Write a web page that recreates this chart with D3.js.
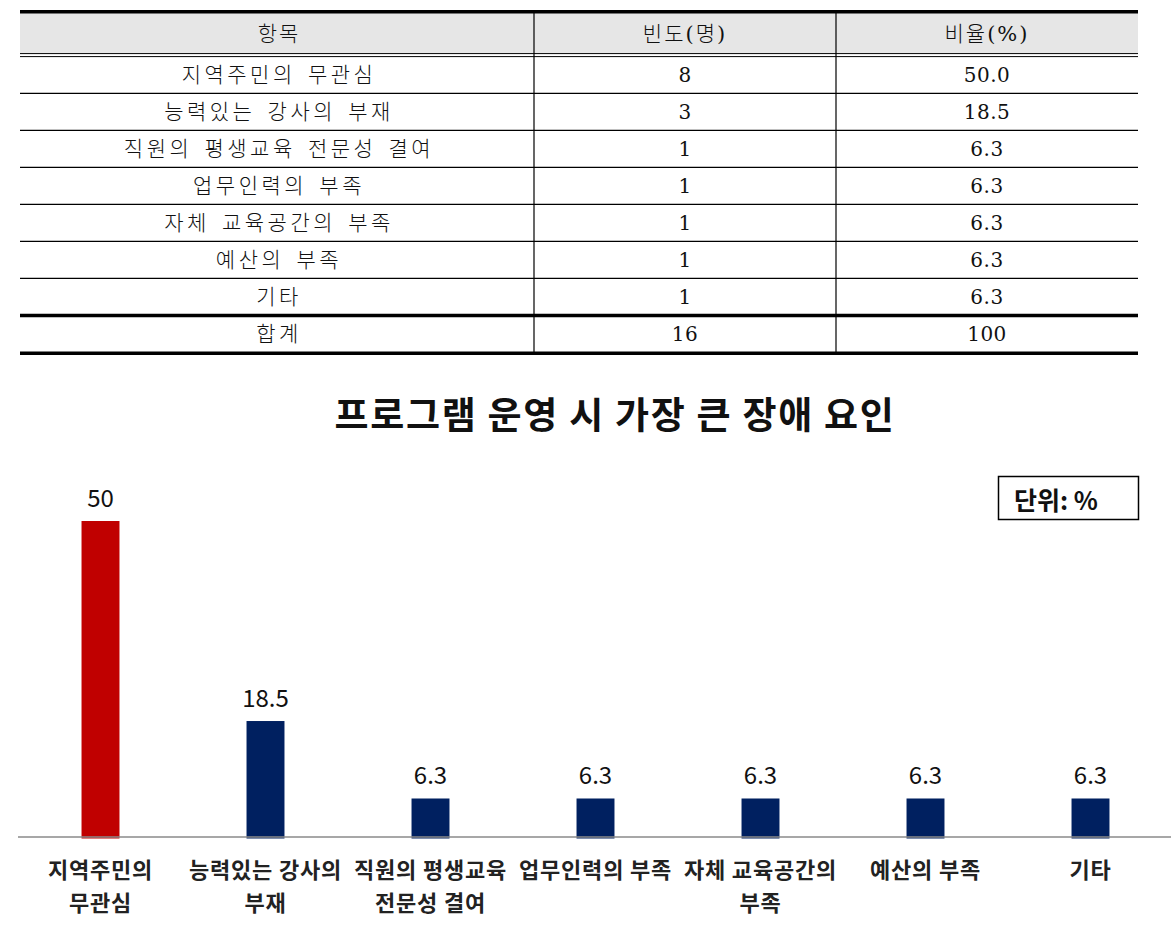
<!DOCTYPE html>
<html><head><meta charset="utf-8">
<script src="https://cdn.jsdelivr.net/npm/d3@7"></script>
<style>
html,body{margin:0;padding:0;background:#fff;}
svg{display:block;}
</style></head>
<body>
<script>
// ---- Table data ----
const tableHeaders = ["항목", "빈도(명)", "비율(%)"];
const tableItems = ["지역주민의 무관심", "능력있는 강사의 부재", "직원의 평생교육 전문성 결여", "업무인력의 부족", "자체 교육공간의 부족", "예산의 부족", "기타"];
const tableCounts = [8, 3, 1, 1, 1, 1, 1];
const tablePercents = ["50.0", "18.5", "6.3", "6.3", "6.3", "6.3", "6.3"];
const totalRow = ["합계", "16", "100"];

// ---- Chart data ----
const chartTitle = "프로그램 운영 시 가장 큰 장애 요인";
const unitLabel = "단위: %";
const categories = ["지역주민의 무관심", "능력있는 강사의 부재", "직원의 평생교육 전문성 결여", "업무인력의 부족", "자체 교육공간의 부족", "예산의 부족", "기타"];
const categoryLines = [["지역주민의", "무관심"], ["능력있는 강사의", "부재"], ["직원의 평생교육", "전문성 결여"], ["업무인력의 부족"], ["자체 교육공간의", "부족"], ["예산의 부족"], ["기타"]];
const values = [50, 18.5, 6.3, 6.3, 6.3, 6.3, 6.3];
const barColors = ["#c00000", "#002060", "#002060", "#002060", "#002060", "#002060", "#002060"];

const W = 1171, H = 950;
const svg = d3.select("body").append("svg").attr("width", W).attr("height", H);

// ===== TABLE =====
const tFont = "'DejaVu Serif', 'Noto Sans CJK KR', serif";
const colEdges = [20, 534, 836, 1138];
const headerTop = 13, headerBottom = 53.5, rowH = 37;
const rows = tableItems.map((d, i) => [d, String(tableCounts[i]), tablePercents[i]]);
rows.push(totalRow);
const rowY = d3.scaleLinear().domain([0, 1]).range([56.3, 56.3 + rowH]);

const tg = svg.append("g");
tg.append("rect").attr("x", 20).attr("y", headerTop).attr("width", 1118).attr("height", headerBottom - headerTop).attr("fill", "#e6e6e6");

function cellText(sel) {
  sel.attr("text-anchor", "middle")
    .attr("font-family", tFont).attr("font-weight", 300).attr("fill", "#111")
    .attr("font-size", (d, i) => i === 0 ? 21 : 20)
    .attr("letter-spacing", (d, i) => i === 0 ? 3.5 : 0.5)
    .attr("word-spacing", (d, i) => i === 0 ? 2 : 0);
}

tg.selectAll("text.h").data(tableHeaders).join("text")
  .attr("x", (d, i) => (colEdges[i] + colEdges[i+1]) / 2 + (i === 0 ? 2 : 0))
  .attr("y", (headerTop + headerBottom) / 2 + 8)
  .call(cellText)
  .attr("font-size", 21).attr("letter-spacing", 2)
  .text(d => d);

rows.forEach((r, ri) => {
  tg.selectAll(null).data(r).join("text")
    .attr("x", (d, i) => (colEdges[i] + colEdges[i+1]) / 2 + (i === 0 ? 2 : 0))
    .attr("y", rowY(ri) + rowH / 2 + 7.5)
    .call(cellText)
    .text(d => d);
});

// horizontal lines
tg.append("line").attr("x1", 20).attr("x2", 1138).attr("y1", 11.7).attr("y2", 11.7).attr("stroke", "#000").attr("stroke-width", 3.5);
tg.append("line").attr("x1", 20).attr("x2", 1138).attr("y1", 53.6).attr("y2", 53.6).attr("stroke", "#000").attr("stroke-width", 1);
tg.append("line").attr("x1", 20).attr("x2", 1138).attr("y1", 56.6).attr("y2", 56.6).attr("stroke", "#000").attr("stroke-width", 1);
for (let i = 1; i < rows.length; i++) {
  const thick = i === rows.length - 1;
  tg.append("line").attr("x1", 20).attr("x2", 1138).attr("y1", rowY(i) + (thick ? 0.2 : 0)).attr("y2", rowY(i) + (thick ? 0.2 : 0))
    .attr("stroke", "#000").attr("stroke-width", thick ? 3.5 : 1.2);
}
tg.append("line").attr("x1", 20).attr("x2", 1138).attr("y1", rowY(rows.length) + 1).attr("y2", rowY(rows.length) + 1).attr("stroke", "#000").attr("stroke-width", 3.5);
[534, 836].forEach(xv => {
  tg.append("line").attr("x1", xv).attr("x2", xv).attr("y1", 13).attr("y2", rowY(rows.length)).attr("stroke", "#000").attr("stroke-width", 1.2);
});

// ===== CHART =====
const cFont = "'Noto Sans CJK KR', sans-serif";
svg.append("text").attr("x", 615).attr("y", 429).attr("text-anchor", "middle")
  .attr("font-family", cFont).attr("font-size", 37).attr("font-weight", 700).attr("fill", "#111")
  .attr("letter-spacing", 1.7)
  .text(chartTitle);

svg.append("rect").attr("x", 998.5).attr("y", 476.5).attr("width", 140).attr("height", 43)
  .attr("fill", "#fff").attr("stroke", "#000").attr("stroke-width", 1.5);
svg.append("text").attr("x", 1014).attr("y", 510)
  .attr("font-family", cFont).attr("font-size", 25).attr("font-weight", 700).attr("fill", "#111")
  .text(unitLabel);

const x = d3.scaleBand().domain(categories).range([18, 1173]).paddingInner(0.77).paddingOuter(0.385);
const y = d3.scaleLinear().domain([0, 50]).range([838.5, 521]);

const cg = svg.append("g");
cg.selectAll("rect.bar").data(values).join("rect")
  .attr("x", (d, i) => x(categories[i]))
  .attr("y", d => y(d))
  .attr("width", x.bandwidth())
  .attr("height", d => y(0) - y(d))
  .attr("fill", (d, i) => barColors[i]);

cg.selectAll("text.val").data(values).join("text")
  .attr("x", (d, i) => x(categories[i]) + x.bandwidth() / 2)
  .attr("y", d => y(d) - 14)
  .attr("text-anchor", "middle")
  .attr("font-family", cFont).attr("font-size", 24).attr("fill", "#111")
  .text(d => String(d));

const axis = d3.axisBottom(x).tickSize(0).tickFormat("");
const ag = svg.append("g").attr("transform", "translate(0,837)").call(axis);
ag.select(".domain").attr("stroke", "#8a8a8a").attr("stroke-width", 1.5).attr("d", "M18,0H1171");

ag.selectAll(".tick").each(function(d, i) {
  const t = d3.select(this).append("text")
    .attr("text-anchor", "middle")
    .attr("font-family", cFont).attr("font-size", 22).attr("font-weight", 700).attr("fill", "#222")
    .attr("letter-spacing", 0.8);
  categoryLines[i].forEach((ln, k) => {
    t.append("tspan").attr("x", 0).attr("y", 41 + k * 33).text(ln);
  });
});
</script>
</body></html>
